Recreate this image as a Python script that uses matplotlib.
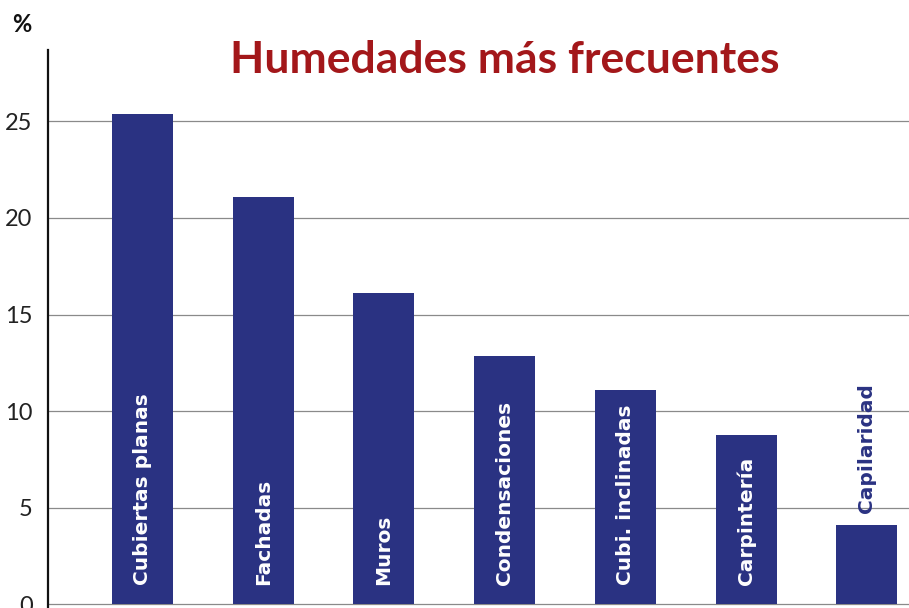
import matplotlib
matplotlib.use("Agg")
import matplotlib.pyplot as plt

# Porcentaje de casos por tipo de humedad
categorias = ["Cubiertas planas", "Fachadas", "Muros", "Condensaciones",
              "Cubi. inclinadas", "Carpintería", "Capilaridad"]
valores = [25.4, 21.1, 16.1, 12.85, 11.1, 8.75, 4.1]
ticks_y = [0, 5, 10, 15, 20, 25]

azul = "#2a3282"
rojo = "#a3171a"

plt.rcParams["font.family"] = ["Lato", "DejaVu Sans"]

fig = plt.figure(figsize=(9.09, 6.08), dpi=100)
ax = fig.add_axes([48 / 909, 0, 1 - 48 / 909, 558 / 608])

pos = list(range(len(categorias)))
ax.bar(pos, valores, width=0.505, color=azul, zorder=3)

ax.set_xlim(-0.782, 6.348)
ax.set_ylim(-0.2, 28.7)
ax.set_yticks(ticks_y)
ax.set_yticklabels([str(t) for t in ticks_y], fontsize=17, color="#222222")
ax.tick_params(axis="y", length=0, pad=11)
ax.set_xticks([])

for t in ticks_y:
    ax.axhline(t, color="#8a8a8a", lw=0.9, zorder=1)

for s in ["top", "right", "bottom"]:
    ax.spines[s].set_visible(False)
ax.spines["left"].set_linewidth(1.6)
ax.spines["left"].set_color("#111111")

# etiquetas verticales dentro de las barras; la última va encima
for i, (cat, v) in enumerate(zip(categorias, valores)):
    if i < len(categorias) - 1:
        ax.text(i, 1.0, cat, rotation=90, ha="center", va="bottom",
                color="white", fontsize=14.5, fontweight="bold",
                family="DejaVu Sans", zorder=4)
    else:
        ax.text(i, v + 0.6, cat, rotation=90, ha="center", va="bottom",
                color=azul, fontsize=14.5, fontweight="bold",
                family="DejaVu Sans", zorder=4)

fig.text(505 / 909, 1 - 60 / 608, "Humedades más frecuentes", ha="center",
         va="center", color=rojo, fontsize=32, fontweight="bold")
fig.text(22 / 909, 1 - 24 / 608, "%", ha="center", va="center",
         color="#111111", fontsize=17, fontweight="bold")

fig.savefig("out.png", dpi=100)
